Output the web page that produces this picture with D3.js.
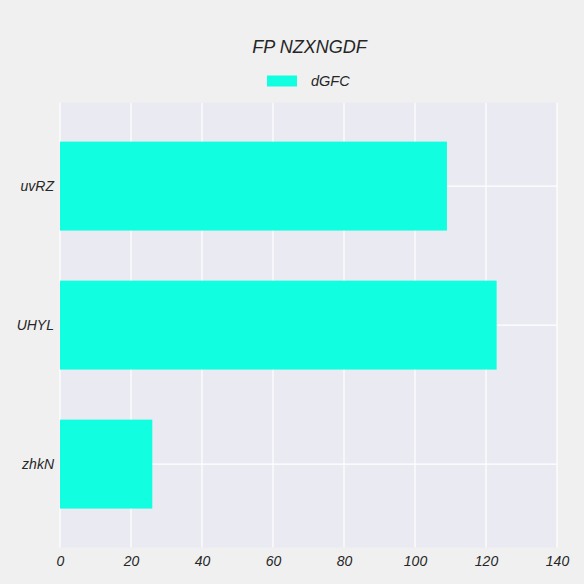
<!DOCTYPE html>
<html><head><meta charset="utf-8">
<script src="https://cdn.jsdelivr.net/npm/d3@7"></script>
<style>
html,body{margin:0;padding:0;background:#f0f0f0;}
svg{display:block;}
text{font-family:"Liberation Sans",Arial,sans-serif;font-style:italic;fill:#262626;}
</style></head>
<body>
<script>
const title = "FP NZXNGDF";
const seriesName = "dGFC";
const categories = ["uvRZ", "UHYL", "zhkN"];
const values = [109, 123, 26];
const xTicks = [0, 20, 40, 60, 80, 100, 120, 140];

const W = 584, H = 584;
const m = {left: 60, right: 27, top: 102.7, bottom: 36.5};
const svg = d3.select("body").append("svg").attr("width", W).attr("height", H);
svg.append("rect").attr("width", W).attr("height", H).attr("fill", "#f0f0f0");

const x = d3.scaleLinear().domain([0, 140]).range([m.left, W - m.right]);
const y = d3.scaleBand().domain(categories).range([m.top, H - m.bottom]).paddingInner(0.36).paddingOuter(0.28);

svg.append("rect").attr("x", m.left).attr("y", m.top)
  .attr("width", W - m.right - m.left).attr("height", H - m.bottom - m.top).attr("fill", "#eaeaf2");

// grid
svg.append("g").selectAll("line").data(xTicks).join("line")
  .attr("x1", d => x(d)).attr("x2", d => x(d)).attr("y1", m.top).attr("y2", H - m.bottom)
  .attr("stroke", "#ffffff").attr("stroke-width", 1.2);
svg.append("g").selectAll("line").data(categories).join("line")
  .attr("x1", m.left).attr("x2", W - m.right)
  .attr("y1", d => y(d) + y.bandwidth() / 2).attr("y2", d => y(d) + y.bandwidth() / 2)
  .attr("stroke", "#ffffff").attr("stroke-width", 1.2);

// bars
svg.append("g").selectAll("rect").data(categories).join("rect")
  .attr("x", x(0)).attr("y", d => y(d))
  .attr("width", (d, i) => x(values[i]) - x(0)).attr("height", y.bandwidth())
  .attr("fill", "#11ffe0");

// x axis
const xa = svg.append("g").attr("transform", `translate(0,${H - m.bottom})`)
  .call(d3.axisBottom(x).tickValues(xTicks).tickSize(0).tickPadding(9));
xa.select(".domain").remove();
xa.selectAll("text").attr("font-size", 14).style("font-family", '"Liberation Sans",Arial,sans-serif').style("font-style", "italic").attr("fill", "#262626");

// y axis
const ya = svg.append("g").attr("transform", `translate(${m.left},0)`)
  .call(d3.axisLeft(y).tickSize(0).tickPadding(6));
ya.select(".domain").remove();
ya.selectAll("text").attr("font-size", 14).style("font-family", '"Liberation Sans",Arial,sans-serif').style("font-style", "italic").attr("fill", "#262626");

// title
svg.append("text").attr("x", (m.left + W - m.right) / 2 + 1).attr("y", 53)
  .attr("text-anchor", "middle").attr("font-size", 18).text(title);

// legend
svg.append("rect").attr("x", 267).attr("y", 75.5).attr("width", 30).attr("height", 11).attr("fill", "#11ffe0");
svg.append("text").attr("x", 311).attr("y", 86).attr("font-size", 14.5).text(seriesName);
</script>
</body></html>
